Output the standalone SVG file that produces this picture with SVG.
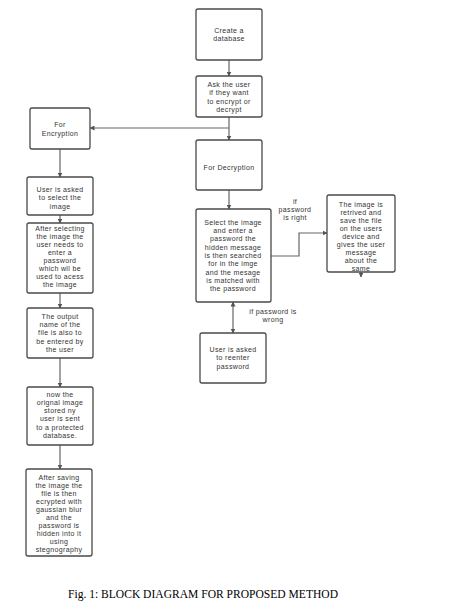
<svg xmlns="http://www.w3.org/2000/svg" width="459" height="612" viewBox="0 0 459 612">
<defs>
<marker id="ah" viewBox="0 0 10 10" refX="9" refY="5" markerWidth="5" markerHeight="5" orient="auto-start-reverse" markerUnits="userSpaceOnUse">
<path d="M0,0 L10,5 L0,10 z" fill="#555"/>
</marker>
<style>
.b{fill:#fff;stroke:#4a4a4a;stroke-width:1.3}
.t{font-family:"Liberation Sans",Arial,sans-serif;font-size:7px;letter-spacing:0.35px;fill:#333;text-anchor:middle}
.c{fill:none;stroke:#666;stroke-width:1.2}
.cap{font-family:"Liberation Serif","Times New Roman",serif;font-size:11.5px;fill:#000}
</style>
</defs>
<rect width="459" height="612" fill="#fff"/>
<g id="connectors">
<path class="c" d="M229,60 V76" marker-end="url(#ah)"/>
<path class="c" d="M229,117 V140" marker-end="url(#ah)"/>
<path class="c" d="M229,128 H90" marker-end="url(#ah)"/>
<path class="c" d="M60,149 V177" marker-end="url(#ah)"/>
<path class="c" d="M60,215 V223" marker-end="url(#ah)"/>
<path class="c" d="M60,293 V308" marker-end="url(#ah)"/>
<path class="c" d="M60,358 V387" marker-end="url(#ah)"/>
<path class="c" d="M60,445 V469" marker-end="url(#ah)"/>
<path class="c" d="M229,190 V209" marker-end="url(#ah)"/>
<path class="c" d="M271,256 H299 V233 H327" marker-end="url(#ah)"/>
<path class="c" d="M233,302 V333" marker-start="url(#ah)" marker-end="url(#ah)"/>
<path class="c" d="M361,271 V277" marker-end="url(#ah)"/>
<text class="t" x="295" y="204">if</text>
<text class="t" x="295" y="212">password</text>
<text class="t" x="295" y="220">is right</text>
<text class="t" x="273" y="314">if password is</text>
<text class="t" x="273" y="322">wrong</text>
</g>
<g id="create">
<rect class="b" x="196" y="9" width="66" height="51" rx="2"/>
<text class="t" x="229" y="33">Create a</text>
<text class="t" x="229" y="41">database</text>
</g>
<g id="ask">
<rect class="b" x="196" y="76" width="66" height="41" rx="2"/>
<text class="t" x="229" y="87">Ask the user</text>
<text class="t" x="229" y="95">if they want</text>
<text class="t" x="229" y="104">to encrypt or</text>
<text class="t" x="229" y="112">decrypt</text>
</g>
<g id="encryption">
<rect class="b" x="30" y="108" width="60" height="41" rx="2"/>
<text class="t" x="60" y="127">For</text>
<text class="t" x="60" y="136">Encryption</text>
</g>
<g id="select">
<rect class="b" x="27" y="177" width="66" height="38" rx="2"/>
<text class="t" x="60" y="192">User is asked</text>
<text class="t" x="60" y="200">to select the</text>
<text class="t" x="60" y="209">image</text>
</g>
<g id="password">
<rect class="b" x="27" y="223" width="66" height="70" rx="2"/>
<text class="t" x="60" y="231">After selecting</text>
<text class="t" x="60" y="239">the image  the</text>
<text class="t" x="60" y="247">user needs to</text>
<text class="t" x="60" y="255">enter a</text>
<text class="t" x="60" y="263">password</text>
<text class="t" x="60" y="271">which wll be</text>
<text class="t" x="60" y="279">used to acess</text>
<text class="t" x="60" y="287">the image</text>
</g>
<g id="output">
<rect class="b" x="27" y="308" width="66" height="50" rx="2"/>
<text class="t" x="60" y="319">The  output</text>
<text class="t" x="60" y="327">name of the</text>
<text class="t" x="60" y="335">file is also to</text>
<text class="t" x="60" y="344">be entered by</text>
<text class="t" x="60" y="352">the user</text>
</g>
<g id="stored">
<rect class="b" x="27" y="387" width="66" height="58" rx="2"/>
<text class="t" x="60" y="397">now the</text>
<text class="t" x="60" y="405">orignal image</text>
<text class="t" x="60" y="413">stored ny</text>
<text class="t" x="60" y="421">user is sent</text>
<text class="t" x="60" y="430">to a protected</text>
<text class="t" x="60" y="438">database.</text>
</g>
<g id="saving">
<rect class="b" x="26" y="469" width="66" height="87" rx="2"/>
<text class="t" x="59" y="480">After saving</text>
<text class="t" x="59" y="488">the image the</text>
<text class="t" x="59" y="496">file is then</text>
<text class="t" x="59" y="504">ecrypted with</text>
<text class="t" x="59" y="512">gaussian blur</text>
<text class="t" x="59" y="520">and the</text>
<text class="t" x="59" y="528">password is</text>
<text class="t" x="59" y="536">hidden into it</text>
<text class="t" x="59" y="544">using</text>
<text class="t" x="59" y="552">stegnography</text>
</g>
<g id="decryption">
<rect class="b" x="196" y="140" width="66" height="50" rx="2"/>
<text class="t" x="229" y="170">For Decryption</text>
</g>
<g id="search">
<rect class="b" x="196" y="209" width="75" height="93" rx="2"/>
<text class="t" x="233" y="225">Select the image</text>
<text class="t" x="233" y="233">and enter a</text>
<text class="t" x="233" y="241">password the</text>
<text class="t" x="233" y="250">hidden message</text>
<text class="t" x="233" y="258">is then searched</text>
<text class="t" x="233" y="266">for in the imge</text>
<text class="t" x="233" y="275">and the mesage</text>
<text class="t" x="233" y="283">is matched with</text>
<text class="t" x="233" y="291">the password</text>
</g>
<g id="retrieved">
<rect class="b" x="327" y="195" width="68" height="77" rx="2"/>
<text class="t" x="361" y="207">The image is</text>
<text class="t" x="361" y="215">retrived and</text>
<text class="t" x="361" y="223">save the file</text>
<text class="t" x="361" y="231">on the users</text>
<text class="t" x="361" y="239">device and</text>
<text class="t" x="361" y="247">gives the user</text>
<text class="t" x="361" y="255">message</text>
<text class="t" x="361" y="263">about the</text>
<text class="t" x="361" y="271">same</text>
</g>
<g id="reenter">
<rect class="b" x="200" y="333" width="66" height="50" rx="2"/>
<text class="t" x="233" y="352">User is asked</text>
<text class="t" x="233" y="360">to reenter</text>
<text class="t" x="233" y="369">password</text>
</g>
<text class="cap" x="68" y="598" textLength="270" lengthAdjust="spacingAndGlyphs">Fig. 1: BLOCK DIAGRAM FOR PROPOSED METHOD</text>
</svg>
